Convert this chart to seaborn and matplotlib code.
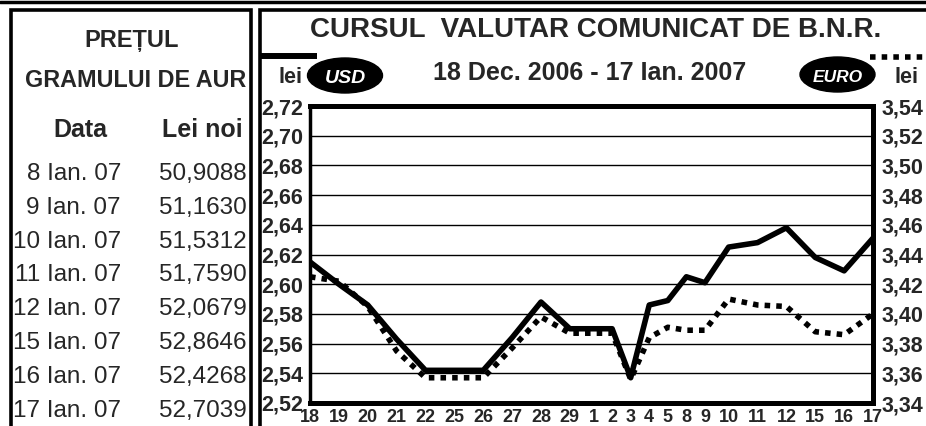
import numpy as np
import pandas as pd
import seaborn as sns
import matplotlib.pyplot as plt
from matplotlib.patches import Ellipse, Rectangle
from matplotlib.lines import Line2D

# zilele cotatiei (18 dec 2006 - 17 ian 2007)
zile = ['18', '19', '20', '21', '22', '25', '26', '27', '28', '29',
        '1', '2', '3', '4', '5', '8', '9', '10', '11', '12', '15', '16', '17']
usd = [2.615, 2.600, 2.586, 2.563, 2.542, 2.542, 2.542, 2.564, 2.588, 2.570,
       2.570, 2.570, 2.537, 2.586, 2.589, 2.605, 2.601, 2.625, 2.628, 2.638,
       2.618, 2.609, 2.631]
euro = [3.425, 3.422, 3.405, 3.375, 3.357, 3.357, 3.357, 3.377, 3.398, 3.387,
        3.387, 3.387, 3.356, 3.384, 3.391, 3.389, 3.389, 3.410, 3.406, 3.405,
        3.388, 3.386, 3.400]
luni = ['25', '1', '8', '15']  # zilele de luni -> linii verticale

aur_data = ['8 Ian. 07', '9 Ian. 07', '10 Ian. 07', '11 Ian. 07',
            '12 Ian. 07', '15 Ian. 07', '16 Ian. 07', '17 Ian. 07']
aur_lei = ['50,9088', '51,1630', '51,5312', '51,7590',
           '52,0679', '52,8646', '52,4268', '52,7039']

W, H = 926, 426


def px(x, y):
    # pixel (from top-left) -> figure fraction
    return x / W, 1 - y / H


# labels are packed like text, so positions follow label length
lens = [len(z) for z in zile]
poz = [0.0]
for a, b in zip(lens[:-1], lens[1:]):
    poz.append(poz[-1] + (a + b) / 2 + 0.8)

df = pd.DataFrame({'poz': poz, 'usd': usd, 'euro': euro})

sns.set_style('white')
plt.rcParams['font.family'] = ['Liberation Sans', 'DejaVu Sans']

fig = plt.figure(figsize=(W / 100, H / 100), dpi=100)
ax = fig.add_axes([310 / W, 1 - 403 / H, (873 - 310) / W, (403 - 106) / H])

sns.lineplot(data=df, x='poz', y='usd', ax=ax, color='black', lw=4)
ax2 = ax.twinx()
sns.lineplot(data=df, x='poz', y='euro', ax=ax2, color='black', lw=4)
ax2.lines[0].set_linestyle((0, (1, 1.1)))
ax2.lines[0].set_dash_capstyle('butt')

ax.set_xlim(poz[0], poz[-1])
ax.set_ylim(2.52, 2.72)
ax2.set_ylim(3.34, 3.54)

yt = np.round(np.arange(2.52, 2.7201, 0.02), 2)
ax.set_yticks(yt, [f'{v:.2f}'.replace('.', ',') for v in yt],
              fontweight='bold', fontsize=15.5)
yt2 = np.round(np.arange(3.34, 3.5401, 0.02), 2)
ax2.set_yticks(yt2, [f'{v:.2f}'.replace('.', ',') for v in yt2],
               fontweight='bold', fontsize=15.5)
ax.set_xticks(poz, zile, fontweight='bold', fontsize=13)
ax.set_xticks([poz[zile.index(l)] for l in luni], minor=True)

ax.grid(axis='y', which='major', color='black', lw=1.0)
ax.grid(axis='x', which='minor', color='black', lw=1.0)
ax.grid(axis='x', which='major', visible=False)
ax.tick_params(axis='both', which='both', length=0)
ax.tick_params(axis='y', pad=5)
ax.tick_params(axis='x', pad=4)
ax2.tick_params(axis='y', length=0, pad=6.5)
ax.set_xlabel('')
ax.set_ylabel('')
ax2.set_ylabel('')

for s in ax.spines.values():
    s.set_linewidth(3.6)
    s.set_color('black')
ax.spines['left'].set_linewidth(2.5)
for s in ax2.spines.values():
    s.set_visible(False)

# chenare
fig.add_artist(Line2D([0, 1], [1 - 1.5 / H] * 2, lw=2.5, color='black'))
fig.add_artist(Rectangle(px(10.5, 440), 240 / W, 430 / H, fill=False,
                         lw=2.6, color='black'))
fig.add_artist(Rectangle(px(260, 440), 700 / W, 430 / H, fill=False,
                         lw=2.6, color='black'))

# panoul cu aurul
fig.text(*px(132, 47), 'PREȚUL', ha='center', va='baseline',
         fontsize=17, fontweight='bold')
fig.text(*px(136, 87), 'GRAMULUI DE AUR', ha='center', va='baseline',
         fontsize=16.8, fontweight='bold')
fig.text(*px(80, 137), 'Data', ha='center', va='baseline',
         fontsize=18, fontweight='bold')
fig.text(*px(202, 137), 'Lei noi', ha='center', va='baseline',
         fontsize=18, fontweight='bold')
for i, (d, v) in enumerate(zip(aur_data, aur_lei)):
    fig.text(*px(121, 180 + 33.8 * i), d, ha='right', va='baseline', fontsize=17.5)
    fig.text(*px(247, 180 + 33.8 * i), v, ha='right', va='baseline', fontsize=17.5)

# titlul graficului
fig.text(*px(596, 37), 'CURSUL  VALUTAR COMUNICAT DE B.N.R.', ha='center',
         va='baseline', fontsize=20, fontweight='bold')
fig.text(*px(590, 80), '18 Dec. 2006 - 17 Ian. 2007', ha='center',
         va='baseline', fontsize=18, fontweight='bold')

# legenda USD / EURO
fig.add_artist(Line2D([260 / W, 317 / W], [1 - 56 / H] * 2, lw=4.3,
                      color='black', solid_capstyle='butt'))
fig.add_artist(Line2D([870 / W, 1], [1 - 57 / H] * 2, lw=4, color='black',
                      ls=(0, (1, 1.1)), dash_capstyle='butt'))
fig.text(*px(290, 83), 'lei', ha='center', va='baseline', fontsize=15.5,
         fontweight='bold')
fig.text(*px(906, 83), 'lei', ha='center', va='baseline', fontsize=15.5,
         fontweight='bold')
fig.add_artist(Ellipse(px(345, 75.5), 75 / W, 35 / H, color='black'))
fig.add_artist(Ellipse(px(837.5, 74.5), 75 / W, 35 / H, color='black'))
fig.text(*px(345, 83), 'USD', ha='center', va='baseline', color='white',
         fontsize=14, fontweight='bold', fontstyle='italic')
fig.text(*px(837.5, 82), 'EURO', ha='center', va='baseline', color='white',
         fontsize=12.5, fontweight='bold', fontstyle='italic')

fig.savefig('out.png', dpi=100)
